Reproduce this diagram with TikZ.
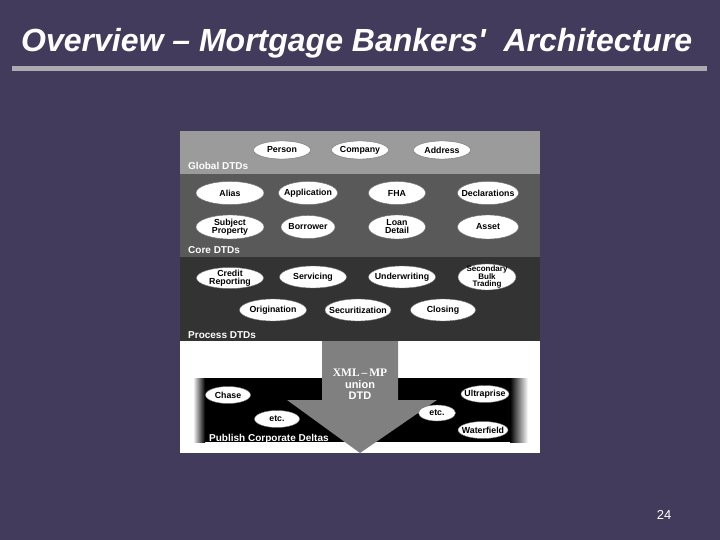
\documentclass[tikz,border=0pt]{standalone}
\usepackage{fontspec}
\setmainfont{Liberation Sans}
\newfontfamily\titlefont{Liberation Sans}
\newfontfamily\slabfont{Liberation Serif}
\usetikzlibrary{shapes.geometric}
\definecolor{bgpurple}{RGB}{67,59,92}
\definecolor{bargray}{RGB}{172,172,176}
\definecolor{globalgray}{RGB}{155,155,155}
\definecolor{coregray}{RGB}{89,89,89}
\definecolor{processgray}{RGB}{51,51,51}
\definecolor{arrowgray}{RGB}{128,128,128}
\tikzset{
  dtd/.style={ellipse, fill=white, draw=black!55, line width=0.4pt,
    inner xsep=-14pt, inner ysep=-8pt,
    minimum width=57pt, minimum height=18pt, align=center,
    font=\fontsize{8.8}{8}\selectfont\bfseries},
  bandlabel/.style={anchor=base west, inner sep=0pt, text=white,
    font=\fontsize{10}{10}\selectfont\bfseries},
  arrowtext/.style={text=white, inner sep=0pt, font=\fontsize{11}{11}\selectfont\bfseries}
}
\begin{document}
\begin{tikzpicture}[x=1pt,y=-1pt]
\useasboundingbox (0,0) rectangle (720,540);
\fill[bgpurple] (0,0) rectangle (720,540);
% title
\node[anchor=base west, inner sep=0pt, text=white, font=\titlefont\fontsize{32}{32}\selectfont\bfseries\itshape] (title) at (21,52) {Overview – Mortgage Bankers'\ \ Architecture};
\fill[bargray] (12,66) rectangle (707,71);
% bands
\fill[globalgray] (180,131) rectangle (540,174);
\fill[coregray] (180,174) rectangle (540,257);
\fill[processgray] (180,257) rectangle (540,341);
\fill[white] (180,341) rectangle (540,453);
\fill[black] (205,378) rectangle (510,442);
\shade[left color=white, right color=black] (193,378) rectangle (205,442);
\shade[left color=black, right color=white] (510,378) rectangle (528,442);
% arrow
\fill[arrowgray] (322,341) -- (398,341) -- (398,400) -- (437,400) -- (360,453) -- (287,400) -- (322,400) -- cycle;
\node[arrowtext, font=\fontsize{11.5}{11.5}\selectfont\bfseries\slabfont] (xml) at (360,373) {XML\,–\,MP};
\node[arrowtext] (union) at (360,384.5) {union};
\node[arrowtext] (dtdtxt) at (360,396) {DTD};
% global
\node[dtd] (person) at (282,150) {Person};
\node[dtd] (company) at (360,150) {Company};
\node[dtd] (address) at (442,150) {Address};
\node[bandlabel] (glabel) at (188,170) {Global DTDs};
% core
\node[dtd, minimum width=68pt, minimum height=23pt] (alias) at (230,193) {Alias};
\node[dtd, minimum width=59pt, minimum height=23pt] (application) at (308,193) {Application};
\node[dtd, minimum width=57pt, minimum height=23pt] (fha) at (397,193) {FHA};
\node[dtd, minimum width=61pt, minimum height=23pt] (declarations) at (488,193) {Declarations};
\node[dtd, minimum width=68pt, minimum height=24pt] (subject) at (230,227) {Subject\\Property};
\node[dtd, minimum width=54pt, minimum height=23pt] (borrower) at (308,227) {Borrower};
\node[dtd, minimum width=57pt, minimum height=24pt] (loan) at (397,227) {Loan\\Detail};
\node[dtd, minimum width=61pt, minimum height=24pt] (asset) at (488,227) {Asset};
\node[bandlabel] (clabel) at (188,253) {Core DTDs};
% process
\node[dtd, minimum width=67pt, minimum height=21pt] (credit) at (230,278) {Credit\\Reporting};
\node[dtd, minimum width=67pt, minimum height=22pt] (servicing) at (313,277) {Servicing};
\node[dtd, minimum width=67pt, minimum height=22pt] (underwriting) at (402,277) {Underwriting};
\node[dtd, minimum width=58pt, minimum height=26pt, font=\fontsize{8}{6.8}\selectfont\bfseries] (secondary) at (487,277) {Secondary\\Bulk\\Trading};
\node[dtd, minimum width=67pt, minimum height=22pt] (origination) at (273,310) {Origination};
\node[dtd, minimum width=66pt, minimum height=22pt] (securitization) at (358,310) {Securitization};
\node[dtd, minimum width=65pt, minimum height=22pt] (closing) at (443,310) {Closing};
\node[bandlabel] (plabel) at (188,338) {Process DTDs};
% corporate deltas
\node[dtd, minimum width=45pt, minimum height=17pt] (chase) at (228,395) {Chase};
\node[dtd, minimum width=45pt, minimum height=17pt] (etcl) at (277,419) {etc.};
\node[dtd, minimum width=48pt, minimum height=17pt] (ultraprise) at (485,394) {Ultraprise};
\node[dtd, minimum width=37pt, minimum height=16pt] (etcr) at (437,413) {etc.};
\node[dtd, minimum width=50pt, minimum height=17pt] (waterfield) at (483,430) {Waterfield};
\node[bandlabel] (pcd) at (209,441) {Publish Corporate Deltas};
% page number
\node[text=white, inner sep=0pt, font=\fontsize{13}{13}\selectfont] (page) at (664,515) {24};
\end{tikzpicture}
\end{document}
